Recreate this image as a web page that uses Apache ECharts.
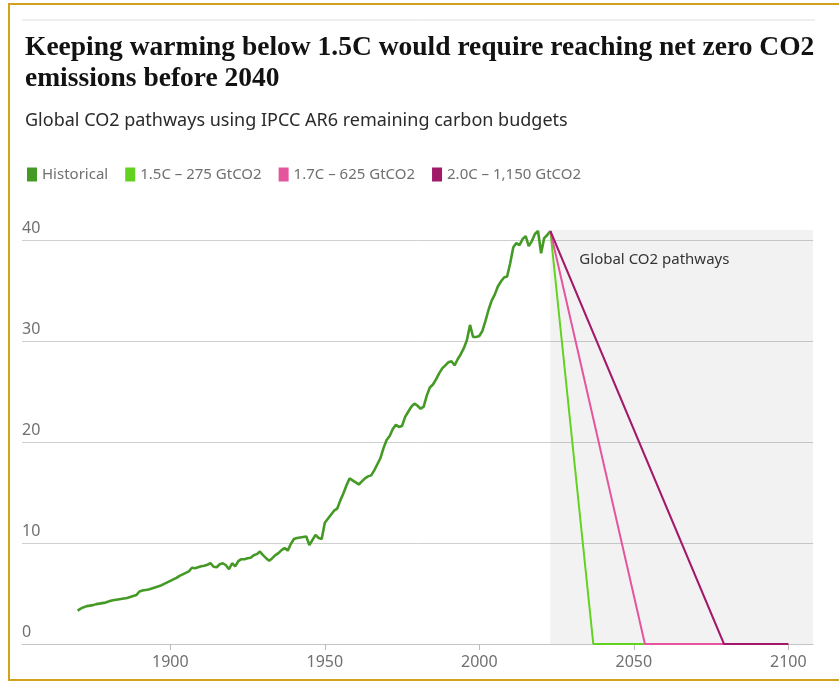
<!DOCTYPE html>
<html>
<head>
<meta charset="utf-8">
<script src="https://cdn.jsdelivr.net/npm/echarts@6/dist/echarts.min.js"></script>
<style>
  html, body { margin: 0; padding: 0; background: #fff; }
  #chart { width: 839px; height: 682px; }
  #frame { position: absolute; left: 8px; top: 3px; width: 840px; height: 674px;
           border-left: 2px solid #d2a21c; border-top: 2px solid #d2a21c; border-bottom: 2px solid #d2a21c;
           pointer-events: none; }
</style>
</head>
<body>
<div id="chart"></div>
<div id="frame"></div>
<script>
// historical global CO2 emissions, GtCO2, one value per year from 1870
var histStart = 1870;
var histValues = [
  3.3, 3.5, 3.65, 3.75, 3.8, 3.85, 3.95, 4.0, 4.05, 4.1,
  4.2, 4.3, 4.35, 4.4, 4.45, 4.5, 4.55, 4.65, 4.75, 4.85,
  5.2, 5.3, 5.35, 5.4, 5.5, 5.6, 5.7, 5.8, 5.95, 6.1,
  6.25, 6.4, 6.55, 6.75, 6.9, 7.05, 7.2, 7.55, 7.5, 7.6,
  7.7, 7.75, 7.85, 8.0, 7.65, 7.6, 7.9, 8.0, 7.8, 7.4,
  8.0, 7.7, 8.2, 8.4, 8.4, 8.5, 8.55, 8.8, 8.9, 9.15,
  8.8, 8.5, 8.25, 8.5, 8.8, 9.0, 9.3, 9.5, 9.25, 9.9,
  10.4, 10.5, 10.55, 10.6, 10.65, 9.8, 10.3, 10.8, 10.5, 10.4,
  12.0, 12.4, 12.8, 13.2, 13.4, 14.2, 14.9, 15.7, 16.4, 16.2,
  16.0, 15.8, 16.1, 16.4, 16.6, 16.7, 17.2, 17.8, 18.4, 19.4,
  20.2, 20.6, 21.3, 21.7, 21.5, 21.6, 22.5, 23.0, 23.5, 23.8,
  23.6, 23.3, 23.5, 24.6, 25.4, 25.7, 26.2, 26.8, 27.3, 27.6,
  27.9, 28.0, 27.6, 28.2, 28.7, 29.3, 30.1, 31.6, 30.4, 30.4,
  30.5, 31.0, 32.0, 33.1, 34.0, 34.6, 35.4, 35.9, 36.3, 36.4,
  37.7, 39.3, 39.7, 39.5, 40.1, 40.4, 39.4, 39.9, 40.6, 40.9,
  38.7, 40.2, 40.5, 40.9
];

// pathways: start year/value, year reaching net zero, end year
var pathStart = [2023, 40.9];
var zeroYears = { p15: 2036.9, p17: 2053.6, p20: 2079.2 };
var pathEnd = 2100;

var xMin = 1852, xMax = 2108;
var xTicks = [1900, 1950, 2000, 2050, 2100];
var yTicks = [0, 10, 20, 30, 40];

var names = ['Historical', '1.5C \u2013 275 GtCO2', '1.7C \u2013 625 GtCO2', '2.0C \u2013 1,150 GtCO2'];
var colors = ['#459a26', '#62d11f', '#e4559d', '#a3196a'];

var histData = histValues.map(function (v, i) { return [histStart + i, v]; });
function pathway(zero) {
  return [pathStart, [zero, 0], [pathEnd, 0]];
}

var chart = echarts.init(document.getElementById('chart'));
var sans = 'Noto Sans';
var option = {
  animation: false,
  title: [{
    text: 'Keeping warming below 1.5C would require reaching net zero CO2\nemissions before 2040',
    left: 20, top: 27,
    textStyle: { fontFamily: 'Liberation Serif', fontWeight: 'bold', fontSize: 27.5, lineHeight: 31, color: '#121212' }
  }, {
    text: 'Global CO2 pathways using IPCC AR6 remaining carbon budgets',
    left: 20, top: 107,
    textStyle: { fontFamily: sans, fontWeight: 'normal', fontSize: 18, color: '#2a2a2a' }
  }],
  graphic: [{
    type: 'line', shape: { x1: 22, y1: 20, x2: 815, y2: 20 },
    style: { stroke: '#dedede', lineWidth: 1 }
  }],
  legend: {
    left: 22, top: 162,
    icon: 'rect', itemWidth: 10, itemHeight: 14, itemGap: 17,
    textStyle: { fontFamily: sans, fontSize: 15, color: '#707070' },
    data: names
  },
  grid: { left: 22, right: 26, top: 230, bottom: 38 },
  xAxis: {
    type: 'value', min: xMin, max: xMax,
    axisLine: { lineStyle: { color: '#c4c4c4' } },
    axisTick: { show: true, length: 6, customValues: xTicks, lineStyle: { color: '#bbbbbb' } },
    axisLabel: { customValues: xTicks, margin: 10, fontFamily: sans, fontSize: 16, color: '#707070',
                 formatter: function (v) { return String(v); } },
    splitLine: { show: false }
  },
  yAxis: {
    type: 'value', min: 0, max: 41,
    axisLine: { show: false },
    axisTick: { show: false, customValues: yTicks },
    axisLabel: { customValues: yTicks, inside: true, margin: 0, verticalAlign: 'bottom', padding: [0, 0, 4, 0],
                 fontFamily: sans, fontSize: 16, color: '#707070' },
    splitLine: { lineStyle: { color: '#d0d0d0', width: 1 } }
  },
  series: [{
    name: names[0], type: 'line', data: histData, showSymbol: false,
    lineStyle: { color: colors[0], width: 2.6 }, itemStyle: { color: colors[0] },
    markArea: {
      silent: true,
      itemStyle: { color: 'rgba(0,0,0,0.05)' },
      label: { show: true, position: [29, 22], fontFamily: sans, fontSize: 15, color: '#333' },
      data: [[{ xAxis: pathStart[0], name: 'Global CO2 pathways' }, { xAxis: xMax }]]
    }
  }, {
    name: names[1], type: 'line', data: pathway(zeroYears.p15), showSymbol: false,
    lineStyle: { color: colors[1], width: 2 }, itemStyle: { color: colors[1] }
  }, {
    name: names[2], type: 'line', data: pathway(zeroYears.p17), showSymbol: false,
    lineStyle: { color: colors[2], width: 2 }, itemStyle: { color: colors[2] }
  }, {
    name: names[3], type: 'line', data: pathway(zeroYears.p20), showSymbol: false,
    lineStyle: { color: colors[3], width: 2 }, itemStyle: { color: colors[3] }
  }]
};
chart.setOption(option);
</script>
</body>
</html>
